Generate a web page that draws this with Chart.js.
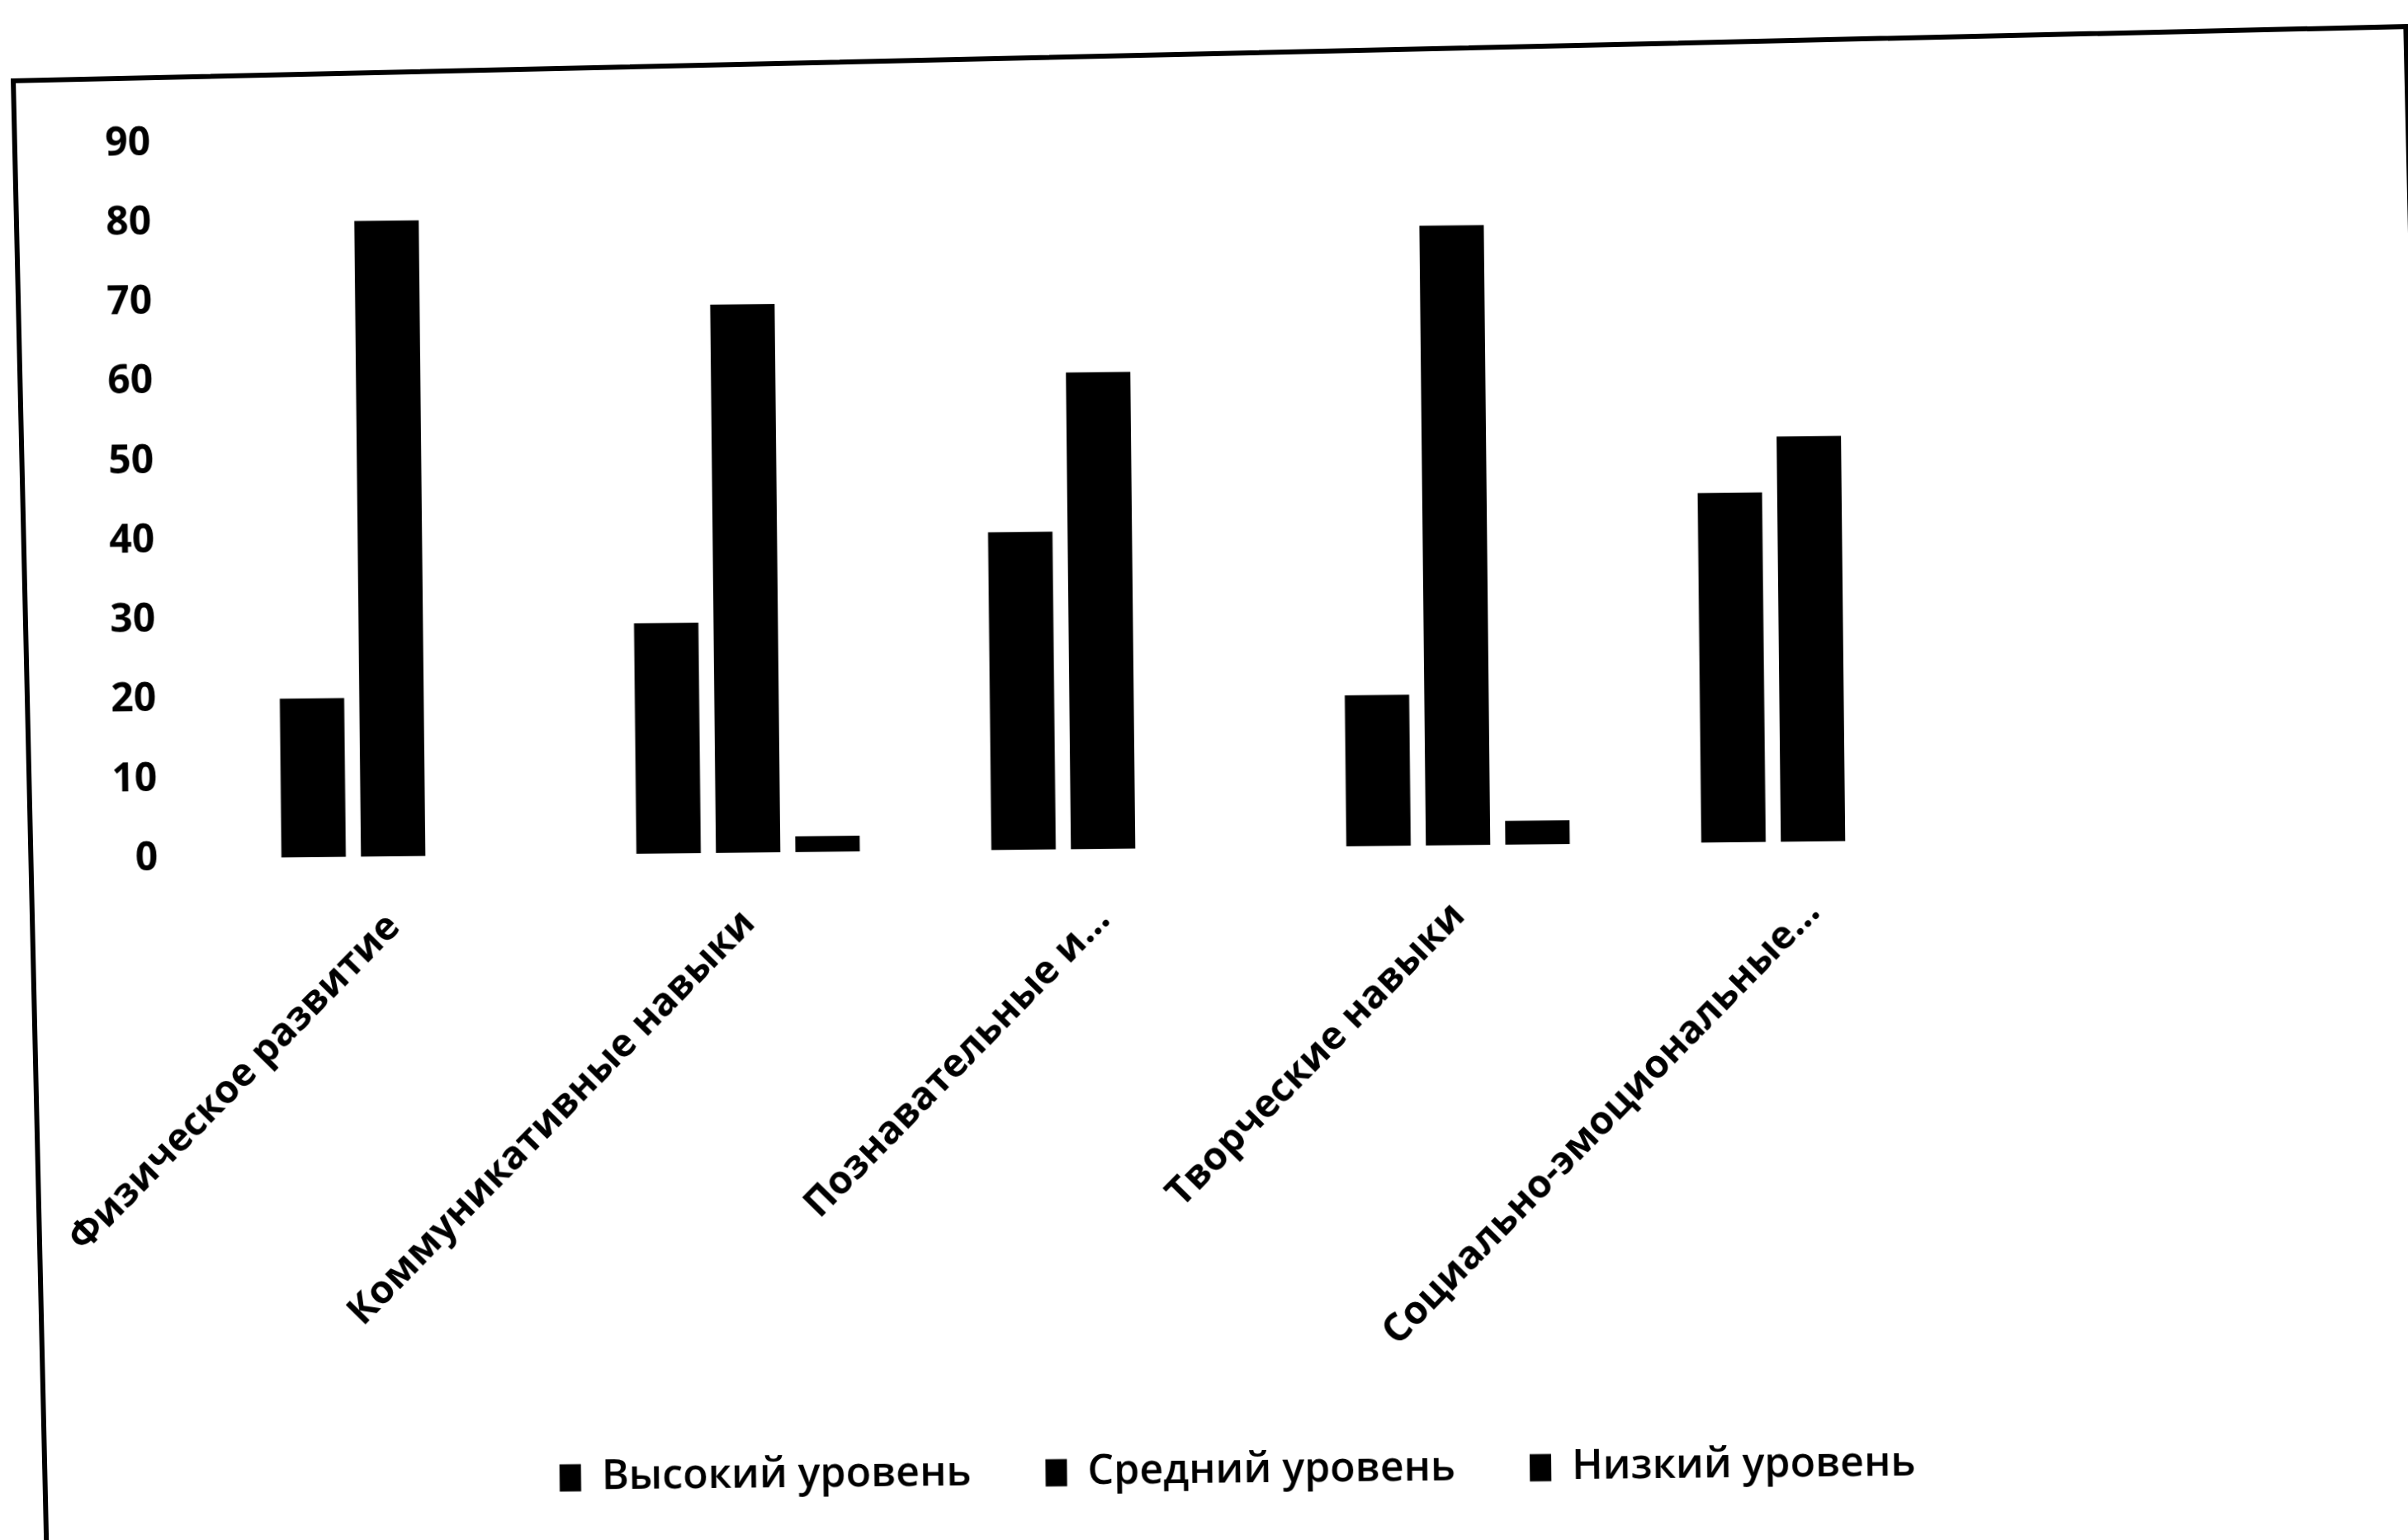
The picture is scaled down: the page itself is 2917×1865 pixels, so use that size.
<!DOCTYPE html>
<html lang="ru">
<head>
<meta charset="utf-8">
<title>Уровни развития</title>
<script src="https://cdn.jsdelivr.net/npm/chart.js@4.4.1/dist/chart.umd.min.js"></script>
<style>
    html, body { margin: 0; padding: 0; background: #fff; overflow: hidden; }
    #wrap { position: relative; width: 2917px; height: 1865px; overflow: hidden; }
    /* рамка сканированной диаграммы, чуть повернута */
    #frame { position: absolute; left: 13px; top: 95px; width: 2893px; height: 1900px;
             border: 6px solid #000; transform: rotate(-1.3deg); transform-origin: 0 0; }
    #chartBox { position: absolute; left: 0; top: 0; width: 2917px; height: 1865px;
                transform: rotate(-0.6deg); transform-origin: 0 100%; }
</style>
</head>
<body>
<div id="wrap">
    <div id="frame"></div>
    <div id="chartBox"><canvas id="levelsChart" width="2917" height="1865"></canvas></div>
</div>
<script>
// категории и значения (в %)
const categories = ['Физическое развитие', 'Коммуникативные навыки', 'Познавательные и…', 'Творческие навыки', 'Социально-эмоциональные…'];
const highLevel = [20, 29, 40, 19, 44];
const midLevel = [80, 69, 60, 78, 51];
const lowLevel = [0, 2, 0, 3, 0];
const yTicks = [0, 10, 20, 30, 40, 50, 60, 70, 80, 90];

const seriesNames = ['Высокий уровень', 'Средний уровень', 'Низкий уровень'];

document.addEventListener('DOMContentLoaded', () => {
    drawLevelsChart();
});

/* ---------- диаграмма ---------- */
function drawLevelsChart() {
    const ctx = document.getElementById('levelsChart');
    const font = (size, weight) => ({ family: "'Open Sans', sans-serif", size: size, weight: weight });

    new Chart(ctx, {
        type: 'bar',
        data: {
            labels: categories,
            datasets: [
                { label: seriesNames[0], data: highLevel, backgroundColor: '#000' },
                { label: seriesNames[1], data: midLevel, backgroundColor: '#000' },
                { label: seriesNames[2], data: lowLevel, backgroundColor: '#000' }
            ]
        },
        options: {
            responsive: false,
            devicePixelRatio: 1,
            animation: false,
            datasets: { bar: { categoryPercentage: 0.672, barPercentage: 0.81 } },
            layout: { padding: { left: 83, right: 0, top: 176, bottom: 33 } },
            scales: {
                x: {
                    grid: { display: false },
                    border: { display: false },
                    // подписи заходят в зону легенды чуть больше, чем по умолчанию
                    afterFit: axis => { axis.height = axis.height - 27; },
                    ticks: {
                        color: '#000', font: font(47, 'bold'), autoSkip: false,
                        minRotation: 45, maxRotation: 45, padding: 50
                    }
                },
                y: {
                    min: 0, max: 90,
                    grid: { display: false },
                    border: { display: false },
                    afterBuildTicks: axis => { axis.ticks = yTicks.map(v => ({ value: v })); },
                    ticks: { color: '#000', font: font(48, 'bold'), padding: 62 }
                },
                // пустое место справа от области построения (как в Excel)
                spacer: {
                    type: 'linear', position: 'right', min: 0, max: 1,
                    grid: { display: false },
                    border: { display: false },
                    ticks: { display: false },
                    afterFit: axis => { axis.width = 497; }
                }
            },
            plugins: {
                tooltip: { enabled: false },
                legend: {
                    position: 'bottom',
                    labels: {
                        color: '#000',
                        boxWidth: 26, boxHeight: 33, padding: 90,
                        font: font(50, '600')
                    }
                }
            }
        }
    });
}
</script>
</body>
</html>
